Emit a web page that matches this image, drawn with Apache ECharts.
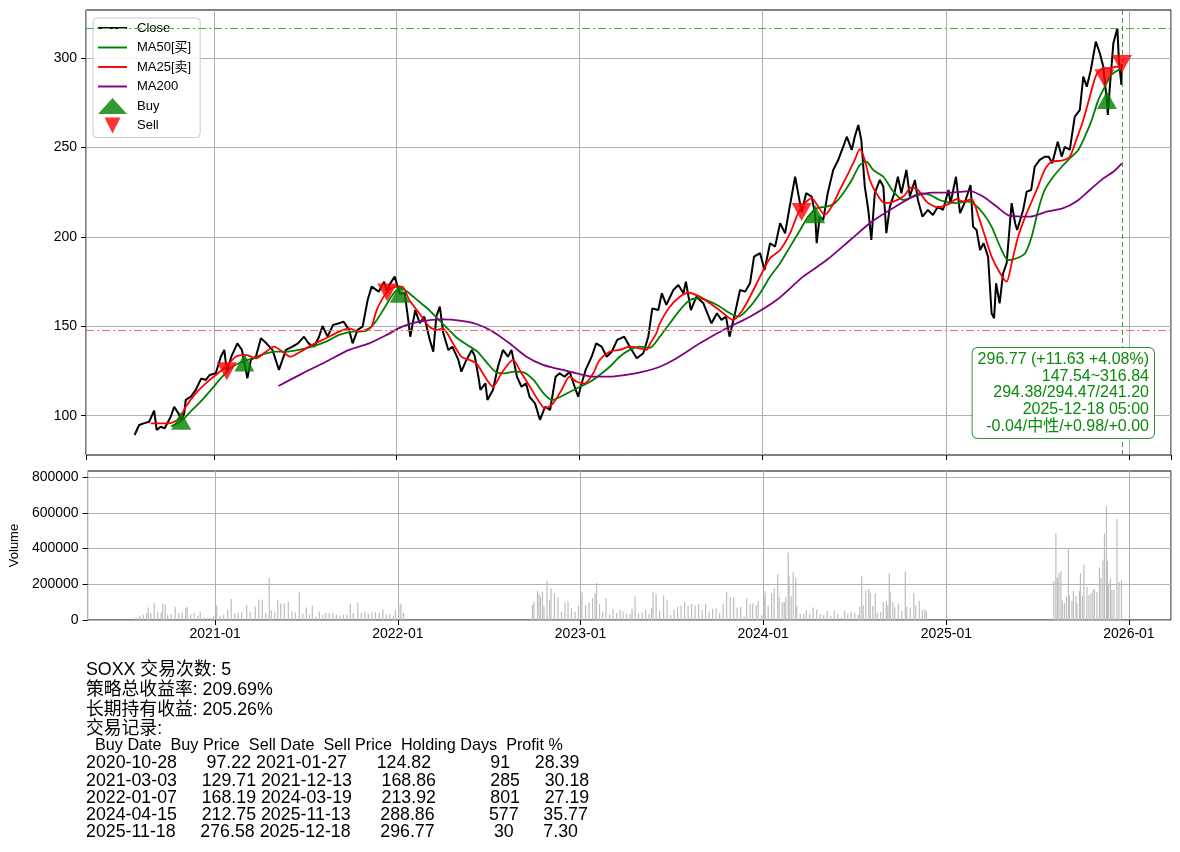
<!DOCTYPE html>
<html><head><meta charset="utf-8">
<script src="https://cdn.jsdelivr.net/npm/echarts@6/dist/echarts.min.js"></script>
<style>html,body{margin:0;padding:0;background:#fff}#c{width:1180px;height:852px}</style>
</head><body><div id="c"></div>
<script>
// ---------- DATA ----------
const closeSeries = [
['2020-07-27',89.2],['2020-08-05',94.8],['2020-08-14',95.7],['2020-08-25',96.6],['2020-09-04',102.8],['2020-09-09',92.0],['2020-09-17',93.8],['2020-09-25',93.0],['2020-10-07',99.4],['2020-10-14',105.0],['2020-10-23',101.0],['2020-10-28',97.22],['2020-11-03',101.3],['2020-11-06',108.8],['2020-11-16',110.6],['2020-11-26',114.4],['2020-12-07',120.9],['2020-12-16',120.0],['2020-12-24',122.8],['2021-01-05',123.7],['2021-01-15',133.0],['2021-01-22',136.8],['2021-01-27',124.82],['2021-02-05',133.0],['2021-02-17',140.5],['2021-02-26',136.8],['2021-03-03',129.71],['2021-03-09',120.9],['2021-03-16',131.2],['2021-03-26',133.0],['2021-04-05',143.3],['2021-04-16',140.5],['2021-04-28',136.8],['2021-05-11',125.6],['2021-05-25',136.8],['2021-06-07',138.6],['2021-06-18',140.5],['2021-06-30',144.2],['2021-07-09',140.5],['2021-07-20',138.6],['2021-07-30',144.2],['2021-08-06',150.2],['2021-08-16',144.2],['2021-08-27',150.8],['2021-09-08',151.7],['2021-09-17',152.6],['2021-09-28',148.0],['2021-10-05',140.5],['2021-10-15',148.0],['2021-10-25',149.8],['2021-11-04',164.7],['2021-11-12',172.2],['2021-11-26',169.4],['2021-12-07',175.0],['2021-12-13',168.86],['2021-12-17',173.1],['2021-12-28',177.8],['2022-01-07',168.19],['2022-01-17',168.5],['2022-01-24',153.6],['2022-01-28',144.2],['2022-02-07',159.1],['2022-02-16',151.7],['2022-02-25',155.4],['2022-03-08',142.4],['2022-03-15',135.8],['2022-03-21',155.4],['2022-03-28',161.0],['2022-04-04',146.1],['2022-04-14',136.8],['2022-04-22',138.6],['2022-05-04',131.2],['2022-05-10',124.6],['2022-05-20',131.2],['2022-05-31',136.8],['2022-06-06',133.0],['2022-06-13',121.8],['2022-06-17',114.4],['2022-06-27',118.1],['2022-07-01',108.8],['2022-07-12',114.4],['2022-07-22',127.4],['2022-08-01',136.8],['2022-08-11',133.0],['2022-08-18',136.8],['2022-08-29',121.8],['2022-09-07',116.2],['2022-09-16',118.1],['2022-09-23',110.6],['2022-10-04',106.9],['2022-10-14',97.6],['2022-10-24',105.0],['2022-11-03',103.2],['2022-11-14',121.8],['2022-11-22',123.7],['2022-12-02',121.8],['2022-12-12',124.6],['2022-12-22',116.2],['2022-12-29',110.6],['2023-01-05',118.1],['2023-01-13',125.6],['2023-01-25',133.0],['2023-02-03',140.5],['2023-02-14',138.6],['2023-02-24',133.0],['2023-03-06',135.8],['2023-03-17',142.4],['2023-03-31',144.2],['2023-04-11',138.6],['2023-04-25',132.1],['2023-05-08',134.9],['2023-05-18',144.2],['2023-05-26',160.0],['2023-06-07',159.1],['2023-06-14',168.5],['2023-06-23',162.0],['2023-07-07',170.3],['2023-07-17',173.1],['2023-07-27',168.5],['2023-08-01',175.0],['2023-08-11',159.1],['2023-08-22',166.6],['2023-09-05',162.9],['2023-09-21',151.7],['2023-10-02',157.3],['2023-10-11',153.6],['2023-10-20',155.4],['2023-10-27',144.2],['2023-11-07',157.3],['2023-11-17',170.3],['2023-11-27',169.4],['2023-12-07',174.1],['2023-12-15',189.0],['2023-12-27',190.9],['2024-01-05',181.5],['2024-01-16',196.5],['2024-01-26',194.6],['2024-02-05',207.7],['2024-02-15',202.1],['2024-02-23',215.1],['2024-03-06',233.7],['2024-03-12',224.5],['2024-03-19',213.92],['2024-03-28',224.5],['2024-04-08',222.6],['2024-04-15',212.75],['2024-04-18',196.5],['2024-04-24',211.4],['2024-05-01',209.5],['2024-05-10',224.5],['2024-05-21',237.5],['2024-05-31',243.1],['2024-06-10',250.5],['2024-06-17',256.1],['2024-06-27',248.7],['2024-07-03',256.1],['2024-07-10',262.7],['2024-07-16',254.3],['2024-07-23',228.2],['2024-07-30',215.1],['2024-08-05',198.3],['2024-08-12',224.5],['2024-08-22',231.9],['2024-08-29',228.2],['2024-09-04',202.1],['2024-09-11',217.0],['2024-09-20',224.5],['2024-09-27',233.7],['2024-10-04',224.5],['2024-10-14',237.5],['2024-10-21',222.6],['2024-10-31',231.9],['2024-11-06',220.7],['2024-11-15',211.4],['2024-11-26',215.1],['2024-12-06',212.3],['2024-12-16',217.0],['2024-12-26',215.1],['2025-01-06',226.3],['2025-01-10',218.9],['2025-01-21',233.7],['2025-01-29',213.3],['2025-02-07',218.9],['2025-02-19',229.1],['2025-02-24',205.8],['2025-03-03',203.9],['2025-03-10',192.7],['2025-03-17',196.5],['2025-03-26',189.0],['2025-04-02',157.3],['2025-04-07',154.5],['2025-04-11',174.1],['2025-04-18',162.9],['2025-04-25',179.7],['2025-05-02',185.3],['2025-05-12',218.9],['2025-05-19',207.7],['2025-05-23',203.9],['2025-06-04',215.1],['2025-06-11',225.4],['2025-06-20',226.3],['2025-06-27',239.3],['2025-07-07',243.1],['2025-07-17',244.9],['2025-07-25',244.9],['2025-08-01',241.2],['2025-08-12',253.3],['2025-08-20',244.9],['2025-08-26',250.5],['2025-09-05',248.7],['2025-09-15',267.3],['2025-09-25',271.0],['2025-10-02',289.7],['2025-10-09',284.1],['2025-10-17',293.4],['2025-10-27',309.3],['2025-11-04',302.8],['2025-11-11',295.3],['2025-11-13',288.86],['2025-11-18',276.58],['2025-11-20',268.3],['2025-11-24',284.1],['2025-12-01',308.4],['2025-12-09',316.84],['2025-12-12',299.0],['2025-12-17',285.14],['2025-12-18',296.77]
];
const ma50Series = [
['2020-10-08',94.0],['2020-10-30',97.6],['2020-11-19',103.2],['2020-12-09',108.8],['2020-12-29',115.3],['2021-01-18',121.8],['2021-02-07',127.4],['2021-02-27',130.2],['2021-03-19',132.1],['2021-04-15',134.9],['2021-05-05',135.8],['2021-05-25',135.8],['2021-06-20',136.8],['2021-07-16',138.6],['2021-08-13',141.4],['2021-09-08',145.2],['2021-10-05',147.0],['2021-11-01',147.5],['2021-11-20',152.6],['2021-12-08',160.5],['2021-12-26',168.5],['2022-01-09',171.3],['2022-01-22',169.4],['2022-02-11',164.7],['2022-03-03',160.1],['2022-03-23',154.5],['2022-04-12',148.9],['2022-05-02',143.3],['2022-05-22',139.6],['2022-06-11',135.8],['2022-07-01',129.3],['2022-07-17',124.6],['2022-08-03',123.7],['2022-08-23',124.6],['2022-09-11',124.3],['2022-10-01',120.0],['2022-10-21',112.5],['2022-11-07',108.8],['2022-11-24',110.6],['2022-12-13',113.4],['2023-01-02',116.2],['2023-01-22',119.0],['2023-02-10',122.8],['2023-03-02',127.4],['2023-03-22',133.0],['2023-04-11',136.8],['2023-05-01',138.6],['2023-05-21',138.0],['2023-06-10',144.2],['2023-06-30',151.7],['2023-07-20',159.1],['2023-08-09',164.7],['2023-08-29',165.7],['2023-09-18',163.8],['2023-10-08',161.0],['2023-10-28',157.3],['2023-11-14',155.4],['2023-12-07',161.0],['2023-12-27',168.5],['2024-01-16',177.8],['2024-02-05',185.3],['2024-02-25',194.6],['2024-03-16',203.9],['2024-04-01',211.4],['2024-04-18',216.1],['2024-05-08',217.0],['2024-05-24',218.9],['2024-06-10',224.5],['2024-06-27',231.9],['2024-07-13',240.3],['2024-07-26',242.1],['2024-08-09',237.5],['2024-08-29',233.7],['2024-09-18',225.4],['2024-10-08',220.7],['2024-10-28',222.9],['2024-11-10',224.5],['2024-11-30',223.5],['2024-12-19',220.7],['2025-01-05',219.5],['2025-01-22',218.9],['2025-02-11',219.8],['2025-02-24',218.9],['2025-03-16',213.3],['2025-04-02',205.8],['2025-04-19',194.6],['2025-05-05',187.1],['2025-05-22',188.1],['2025-06-08',190.9],['2025-06-21',200.2],['2025-07-04',215.1],['2025-07-17',226.3],['2025-08-03',233.7],['2025-08-20',239.3],['2025-09-05',244.0],['2025-09-22',248.7],['2025-10-05',256.1],['2025-10-19',265.5],['2025-11-01',276.7],['2025-11-14',284.1],['2025-11-27',290.7],['2025-12-18',294.47]
];
const ma25Series = [
['2020-08-28',95.7],['2020-10-04',95.7],['2020-10-24',98.5],['2020-11-06',105.0],['2020-11-26',112.5],['2020-12-16',118.1],['2021-01-05',122.8],['2021-01-25',127.4],['2021-02-14',133.0],['2021-03-06',134.0],['2021-03-26',132.1],['2021-04-15',135.8],['2021-05-01',138.6],['2021-05-18',135.8],['2021-06-03',133.0],['2021-06-23',135.8],['2021-07-16',139.6],['2021-08-13',143.3],['2021-09-08',147.0],['2021-09-28',148.9],['2021-10-18',147.0],['2021-11-04',148.5],['2021-11-12',150.0],['2021-11-22',159.1],['2021-12-06',166.6],['2021-12-16',170.3],['2022-01-01',172.2],['2022-01-12',172.2],['2022-01-26',164.7],['2022-02-15',157.3],['2022-03-07',149.8],['2022-03-21',148.0],['2022-04-03',148.9],['2022-04-23',140.5],['2022-05-10',133.0],['2022-05-26',131.2],['2022-06-09',129.3],['2022-06-26',121.8],['2022-07-12',116.2],['2022-07-29',123.7],['2022-08-21',131.2],['2022-09-07',123.7],['2022-09-24',116.2],['2022-10-10',108.8],['2022-10-24',104.1],['2022-11-09',106.9],['2022-11-26',114.4],['2022-12-12',121.8],['2022-12-26',119.0],['2023-01-11',118.1],['2023-01-28',123.7],['2023-02-10',131.2],['2023-03-02',135.8],['2023-03-22',136.8],['2023-04-11',138.6],['2023-05-01',137.7],['2023-05-14',136.8],['2023-05-21',140.0],['2023-06-03',146.1],['2023-06-10',151.7],['2023-06-30',161.0],['2023-07-20',166.6],['2023-08-06',168.8],['2023-08-29',166.6],['2023-09-18',162.9],['2023-10-11',158.2],['2023-11-03',153.6],['2023-11-20',158.2],['2023-12-07',166.6],['2023-12-27',177.8],['2024-01-16',188.1],['2024-02-05',192.7],['2024-02-25',202.1],['2024-03-09',211.4],['2024-03-22',217.9],['2024-04-08',221.7],['2024-04-21',217.0],['2024-05-04',212.3],['2024-05-18',217.0],['2024-06-03',226.3],['2024-06-20',235.6],['2024-07-03',243.1],['2024-07-13',249.1],['2024-07-23',243.1],['2024-08-02',231.9],['2024-08-15',224.5],['2024-09-01',218.9],['2024-09-18',219.8],['2024-10-08',222.6],['2024-10-24',227.8],['2024-11-06',226.3],['2024-11-23',219.8],['2024-12-16',216.5],['2025-01-07',218.5],['2025-01-22',221.1],['2025-02-04',219.8],['2025-02-21',221.1],['2025-03-07',211.4],['2025-03-20',200.2],['2025-04-02',189.0],['2025-04-19',179.7],['2025-05-02',175.0],['2025-05-12',185.3],['2025-05-25',200.2],['2025-06-11',213.3],['2025-07-01',226.3],['2025-07-17',237.5],['2025-07-31',242.1],['2025-08-20',242.7],['2025-09-05',244.9],['2025-09-18',254.3],['2025-10-02',265.5],['2025-10-15',278.5],['2025-10-28',290.7],['2025-11-11',294.4],['2025-11-24',294.4],['2025-12-07',295.3],['2025-12-18',294.38]
];
const ma200Series = [
['2021-05-10',116.6],['2021-06-27',123.7],['2021-08-13',130.2],['2021-09-28',136.8],['2021-11-07',140.5],['2021-12-12',145.2],['2022-01-12',149.8],['2022-02-15',152.6],['2022-04-03',153.9],['2022-05-07',153.2],['2022-06-09',151.3],['2022-07-12',147.0],['2022-08-14',140.5],['2022-09-17',133.0],['2022-10-20',128.4],['2022-11-22',126.0],['2022-12-26',123.7],['2023-01-28',121.8],['2023-03-02',121.8],['2023-04-04',122.8],['2023-05-08',124.6],['2023-06-10',127.4],['2023-07-10',131.6],['2023-08-29',140.5],['2023-10-21',148.9],['2023-12-07',155.4],['2024-01-29',164.7],['2024-03-22',177.8],['2024-05-08',187.1],['2024-06-24',198.3],['2024-08-02',207.7],['2024-09-11',215.1],['2024-10-28',222.6],['2024-12-06',224.8],['2025-01-09',224.8],['2025-02-18',225.7],['2025-03-16',222.6],['2025-04-12',217.0],['2025-05-09',211.8],['2025-06-18',211.4],['2025-07-21',214.2],['2025-08-23',216.1],['2025-09-18',219.8],['2025-10-15',226.3],['2025-11-11',232.8],['2025-12-01',236.5],['2025-12-18',241.2]
];
const volumeSeries = [
['2020-07-27',17000],['2020-08-03',24000],['2020-08-10',30000],['2020-08-17',39000],['2020-08-20',70000],['2020-08-25',39000],['2020-09-01',94000],['2020-09-08',43000],['2020-09-15',43000],['2020-09-18',91000],['2020-09-23',85000],['2020-09-28',30000],['2020-10-05',35000],['2020-10-13',74000],['2020-10-20',39000],['2020-10-27',43000],['2020-11-03',67000],['2020-11-06',74000],['2020-11-13',30000],['2020-11-20',39000],['2020-11-27',24000],['2020-12-02',46000],['2020-12-09',15000],['2020-12-16',13000],['2020-12-23',11000],['2020-12-29',24000],['2021-01-04',83000],['2021-01-11',24000],['2021-01-18',30000],['2021-01-26',57000],['2021-02-02',118000],['2021-02-09',35000],['2021-02-16',39000],['2021-02-23',43000],['2021-03-05',85000],['2021-03-12',48000],['2021-03-22',76000],['2021-03-29',113000],['2021-04-05',113000],['2021-04-12',39000],['2021-04-19',237000],['2021-04-23',54000],['2021-04-30',44000],['2021-05-06',109000],['2021-05-12',94000],['2021-05-19',93000],['2021-05-27',104000],['2021-06-03',48000],['2021-06-10',43000],['2021-06-18',154000],['2021-06-25',35000],['2021-07-02',70000],['2021-07-08',30000],['2021-07-14',80000],['2021-07-21',20000],['2021-07-28',48000],['2021-08-04',30000],['2021-08-10',39000],['2021-08-17',39000],['2021-08-24',39000],['2021-08-31',30000],['2021-09-07',24000],['2021-09-14',30000],['2021-09-21',30000],['2021-09-28',91000],['2021-10-04',39000],['2021-10-13',98000],['2021-10-20',39000],['2021-10-27',48000],['2021-11-03',35000],['2021-11-10',43000],['2021-11-17',43000],['2021-11-25',39000],['2021-12-02',57000],['2021-12-09',30000],['2021-12-16',35000],['2021-12-23',24000],['2021-12-27',57000],['2022-01-03',80000],['2022-01-07',91000],['2022-01-12',39000],
['2022-09-27',85000],['2022-09-30',104000],['2022-10-07',163000],['2022-10-10',144000],['2022-10-13',131000],['2022-10-17',159000],['2022-10-20',76000],['2022-10-26',219000],['2022-10-31',113000],['2022-11-03',178000],['2022-11-10',150000],['2022-11-17',128000],['2022-11-24',48000],['2022-12-01',98000],['2022-12-07',104000],['2022-12-14',67000],['2022-12-21',48000],['2022-12-28',80000],['2023-01-04',154000],['2023-01-11',85000],['2023-01-18',98000],['2023-01-25',122000],['2023-01-30',150000],['2023-02-02',209000],['2023-02-08',91000],['2023-02-14',48000],['2023-02-21',122000],['2023-02-28',30000],['2023-03-07',61000],['2023-03-14',39000],['2023-03-21',57000],['2023-03-27',46000],['2023-04-03',37000],['2023-04-10',33000],['2023-04-14',65000],['2023-04-20',133000],['2023-04-27',37000],['2023-05-04',41000],['2023-05-11',56000],['2023-05-18',33000],['2023-05-23',65000],['2023-05-26',156000],['2023-06-01',144000],['2023-06-08',52000],['2023-06-16',137000],['2023-06-23',111000],['2023-06-30',28000],['2023-07-07',59000],['2023-07-14',74000],['2023-07-21',81000],['2023-07-28',100000],['2023-08-04',78000],['2023-08-11',89000],['2023-08-18',83000],['2023-08-25',89000],['2023-09-01',56000],['2023-09-08',89000],['2023-09-15',46000],['2023-09-22',63000],['2023-09-29',65000],['2023-10-06',41000],['2023-10-13',89000],['2023-10-20',156000],['2023-10-27',130000],['2023-11-03',126000],['2023-11-10',70000],['2023-11-17',74000],['2023-11-24',19000],['2023-11-29',120000],['2023-12-06',89000],['2023-12-11',93000],['2023-12-18',83000],['2023-12-22',106000],['2023-12-29',26000],['2024-01-03',130000],['2024-01-05',161000],['2024-01-11',78000],['2024-01-18',148000],['2024-01-23',176000],['2024-01-30',256000],['2024-02-02',130000],['2024-02-08',100000],['2024-02-12',100000],['2024-02-15',126000],['2024-02-20',378000],['2024-02-22',244000],['2024-02-26',133000],['2024-03-01',267000],['2024-03-06',237000],['2024-03-08',78000],['2024-03-15',37000],['2024-03-22',33000],['2024-03-27',56000],['2024-04-03',33000],['2024-04-10',70000],['2024-04-17',59000],['2024-04-24',33000],['2024-05-01',28000],['2024-05-08',52000],['2024-05-15',22000],['2024-05-22',52000],['2024-05-29',33000],['2024-06-05',15000],['2024-06-12',52000],['2024-06-18',33000],['2024-06-25',46000],['2024-07-02',41000],['2024-07-09',28000],['2024-07-12',74000],['2024-07-16',244000],['2024-07-19',83000],['2024-07-24',167000],['2024-07-30',174000],['2024-08-02',152000],['2024-08-07',78000],['2024-08-12',150000],['2024-08-16',41000],['2024-08-23',44000],['2024-08-28',102000],['2024-09-03',106000],['2024-09-06',83000],['2024-09-09',261000],['2024-09-11',156000],['2024-09-16',100000],['2024-09-20',70000],['2024-09-27',93000],['2024-10-04',50000],['2024-10-11',272000],['2024-10-14',74000],['2024-10-21',70000],['2024-10-28',150000],['2024-11-01',81000],['2024-11-08',107000],['2024-11-14',56000],['2024-11-19',59000],['2024-11-22',50000],
['2025-08-04',218000],['2025-08-08',485000],['2025-08-11',235000],['2025-08-14',263000],['2025-08-18',274000],['2025-08-21',111000],['2025-08-25',96000],['2025-08-29',133000],['2025-09-02',398000],['2025-09-04',139000],['2025-09-09',107000],['2025-09-12',163000],['2025-09-17',133000],['2025-09-19',93000],['2025-09-24',163000],['2025-09-26',263000],['2025-09-30',133000],['2025-10-03',311000],['2025-10-09',185000],['2025-10-13',139000],['2025-10-17',148000],['2025-10-21',167000],['2025-10-24',174000],['2025-10-29',157000],['2025-11-03',293000],['2025-11-06',237000],['2025-11-10',333000],['2025-11-13',485000],['2025-11-17',639000],['2025-11-19',330000],['2025-11-21',204000],['2025-11-25',232000],['2025-11-28',170000],['2025-12-02',170000],['2025-12-08',565000],['2025-12-12',213000],['2025-12-17',222000]
];
// trade records
const buyDates   = ['2020-10-28','2021-03-03','2022-01-07','2024-04-15','2025-11-18'];
const buyPrices  = [97.22,129.71,168.19,212.75,276.58];
const sellDates  = ['2021-01-27','2021-12-13','2024-03-19','2025-11-13','2025-12-18'];
const sellPrices = [124.82,168.86,213.92,288.86,296.77];
const holdDays   = [91,285,801,577,30];
const profitPct  = [28.39,30.18,27.19,35.77,7.30];
const rangeLow = 147.54, rangeHigh = 316.84;
const lastDate = '2025-12-18';
const infoLines = ['296.77 (+11.63 +4.08%)','147.54~316.84','294.38/294.47/241.20','2025-12-18 05:00','-0.04/中性/+0.98/+0.00'];
const summaryLines = ['SOXX 交易次数: 5','策略总收益率: 209.69%','长期持有收益: 205.26%','交易记录:'];
const tableHeader = ['Buy Date','Buy Price','Sell Date','Sell Price','Holding Days','Profit %'];
// axes
const xMin = '2020-04-21', xMax = '2026-03-26';
const priceTicks = [100,150,200,250,300];
const volumeTicks = [0,200000,400000,600000,800000];
const priceMin = 78, priceMax = 327, volMax = 834000;

// ---------- BUILD ----------
const FONT = "'Liberation Sans','Noto Sans CJK SC',sans-serif";
function pad(s, n){ s = String(s); while (s.length < n) s = ' ' + s; return s; }
const headerLine = pad(tableHeader[0],10) + pad(tableHeader[1],11) + pad(tableHeader[2],11) + pad(tableHeader[3],12) + pad(tableHeader[4],14) + pad(tableHeader[5],10);
const rowLines = buyDates.map((d,i)=> pad(d,10) + pad(buyPrices[i].toFixed(2),11) + pad(sellDates[i],11) + pad(sellPrices[i].toFixed(2),12) + pad(holdDays[i],14) + pad(profitPct[i].toFixed(2),10));
const textLines = summaryLines.concat([headerLine], rowLines);
const lineYs = [670,690,710,729,746,763,781,798,815,832];
const lineSizes = [17.8,17.8,17.8,17.8,16.2,17.8,17.8,17.8,17.8,17.8];

const chart = echarts.init(document.getElementById('c'), null, {renderer:'canvas'});
const gridLine = {show:true, lineStyle:{color:'#b0b0b0', width:1}};
const xTick = {show:true, inside:false, length:5, lineStyle:{color:'#000', width:1}};
const mkTick = vals => ({show:true, inside:false, length:5, customValues:vals, lineStyle:{color:'#000', width:1}});
const fmtDate = v => { const d = new Date(v); return d.getFullYear() + '-' + String(d.getMonth()+1).padStart(2,'0'); };
const YEAR = 365*24*3600*1000;
const LINE_ICON = 'path://M0,0H30V2H0Z';

const option = {
  animation:false,
  backgroundColor:'#fff',
  textStyle:{fontFamily:FONT},
  grid:[
    {left:86, top:10, width:1085, height:445, show:true, borderColor:'#000', borderWidth:1, backgroundColor:'transparent'},
    {left:86, top:471, width:1085, height:149, show:true, borderColor:'#000', borderWidth:1, backgroundColor:'transparent'}
  ],
  xAxis:[
    {type:'time', gridIndex:0, min:xMin, max:xMax, splitNumber:6, minInterval:YEAR, maxInterval:YEAR*1.01,
     axisLine:{show:false}, axisTick:xTick, axisLabel:{show:false}, splitLine:gridLine},
    {type:'time', gridIndex:1, min:xMin, max:xMax, splitNumber:6, minInterval:YEAR, maxInterval:YEAR*1.01,
     axisLine:{show:false}, axisTick:xTick, splitLine:gridLine,
     axisLabel:{show:true, formatter:fmtDate, color:'#000', fontSize:14, fontFamily:FONT, margin:7, showMinLabel:false, showMaxLabel:false}}
  ],
  yAxis:[
    {type:'value', gridIndex:0, min:priceMin, max:priceMax, splitNumber:5, axisLine:{show:false}, axisTick:mkTick(priceTicks), splitLine:gridLine,
     axisLabel:{customValues:priceTicks, color:'#000', fontSize:14, fontFamily:FONT, margin:9}},
    {type:'value', gridIndex:1, min:0, max:volMax, interval:200000, axisLine:{show:false}, axisTick:mkTick(volumeTicks), splitLine:gridLine,
     name:'Volume', nameLocation:'middle', nameRotate:90, nameGap:66, nameTextStyle:{color:'#000', fontSize:13, fontFamily:FONT},
     axisLabel:{customValues:volumeTicks, color:'#000', fontSize:14, fontFamily:FONT, margin:9, formatter:v=>String(v)}}
  ],
  legend:{
    orient:'vertical', left:93, top:18, padding:[2,9,4,5], itemWidth:29, itemHeight:16, itemGap:3.5,
    backgroundColor:'rgba(255,255,255,0.85)', borderColor:'#cccccc', borderWidth:1, borderRadius:4,
    textStyle:{color:'#000', fontSize:13, lineHeight:16, fontFamily:FONT, padding:[0,0,0,5]},
    data:[
      {name:'Close', icon:LINE_ICON},{name:'MA50[买]', icon:LINE_ICON},{name:'MA25[卖]', icon:LINE_ICON},{name:'MA200', icon:LINE_ICON},
      {name:'Buy', icon:'triangle'},{name:'Sell', icon:'path://M0,0L10,0L5,10Z'}
    ]
  },
  series:[
    {name:'Close', type:'line', xAxisIndex:0, yAxisIndex:0, data:closeSeries, symbol:'none', lineStyle:{color:'#000', width:2}, itemStyle:{color:'#000'},
     markLine:{silent:true, symbol:'none', label:{show:false},
       data:[
         {yAxis:rangeHigh, lineStyle:{color:'#4cae4c', width:1, type:[8,3,2,3]}},
         {yAxis:rangeLow, lineStyle:{color:'#ee6a6a', width:1, type:[8,3,2,3]}},
         {xAxis:lastDate, lineStyle:{color:'#3d9a3d', width:1, type:[5,3]}}
       ]}},
    {name:'MA50[买]', type:'line', xAxisIndex:0, yAxisIndex:0, data:ma50Series, symbol:'none', smooth:0.25, lineStyle:{color:'#008000', width:1.8}, itemStyle:{color:'#008000'}},
    {name:'MA25[卖]', type:'line', xAxisIndex:0, yAxisIndex:0, data:ma25Series, symbol:'none', smooth:0.25, lineStyle:{color:'#ff0000', width:1.8}, itemStyle:{color:'#ff0000'}},
    {name:'MA200', type:'line', xAxisIndex:0, yAxisIndex:0, data:ma200Series, symbol:'none', smooth:0.25, lineStyle:{color:'#800080', width:1.8}, itemStyle:{color:'#800080'}},
    {name:'Buy', type:'scatter', xAxisIndex:0, yAxisIndex:0, z:5, symbol:'triangle', symbolSize:[20,18],
     itemStyle:{color:'#008000'}, data:buyDates.map((d,i)=>[d,buyPrices[i]])},
    {name:'Sell', type:'scatter', xAxisIndex:0, yAxisIndex:0, z:5, symbol:'path://M0,0L10,0L5,10Z', symbolSize:[20,18],
     itemStyle:{color:'#ff0000'}, data:sellDates.map((d,i)=>[d,sellPrices[i]])},
    {name:'Volume', type:'custom', xAxisIndex:1, yAxisIndex:1, data:volumeSeries, encode:{x:0, y:1}, clip:true,
     renderItem:(params, api)=>{
       const top = api.coord([api.value(0), api.value(1)]);
       const base = api.coord([api.value(0), 0]);
       return {type:'rect', shape:{x:top[0]-0.6, y:top[1], width:1.2, height:base[1]-top[1]}, style:{fill:'#bdbdbd'}};
     }}
  ],
  graphic:[
    {type:'text', x:1154, y:348, z:100, style:{text:infoLines.join('\n'), align:'right', verticalAlign:'top',
      fill:'#0a8a0a', font:'16px '+FONT, lineHeight:16.8, backgroundColor:'#fff', borderColor:'#2e9a2e', borderWidth:1, borderRadius:5, padding:[3,5,3,5]}}
  ].concat(textLines.map((t,i)=>({type:'text', x:86, y:lineYs[i], style:{text:t, fill:'#000', font:lineSizes[i]+'px '+FONT, verticalAlign:'middle', align:'left'}})))
};
chart.setOption(option);
</script></body></html>
